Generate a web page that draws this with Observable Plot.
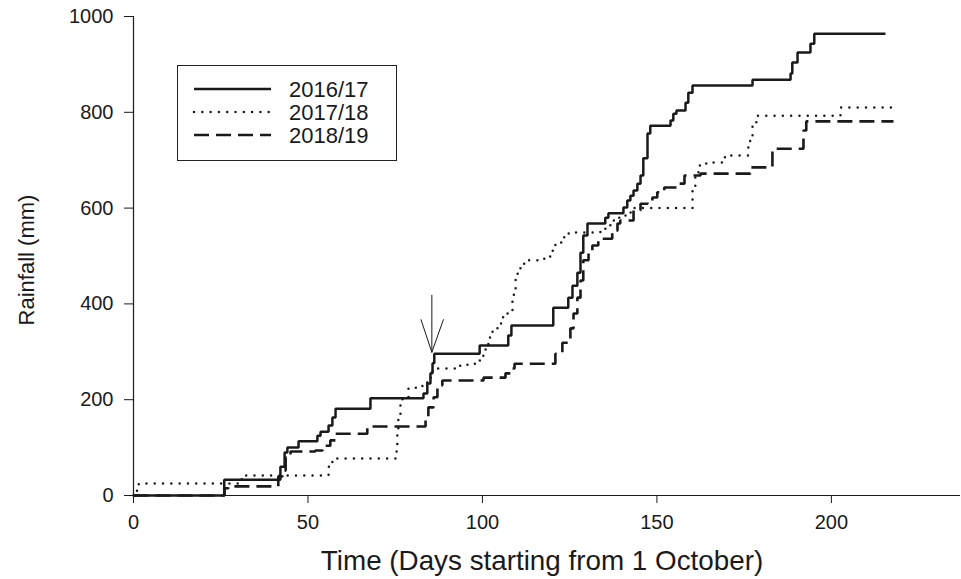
<!DOCTYPE html>
<html><head><meta charset="utf-8">
<script src="https://cdn.jsdelivr.net/npm/d3@7"></script>
<script src="https://cdn.jsdelivr.net/npm/@observablehq/plot@0.6"></script>
<style>
body{margin:0;background:#fff;font-family:"Liberation Sans",Arial,Helvetica,sans-serif;}
#wrap{position:relative;width:961px;height:579px;overflow:hidden;}
#legend{position:absolute;left:177px;top:65px;width:220px;height:96px;border:1px solid #222;box-sizing:border-box;background:#fff;}
</style></head><body><div id="wrap"></div>
<script>
// ---- data ----
const seasons = ["2016/17", "2017/18", "2018/19"];

const day1617 = [0, 26, 42.1, 43.3, 44.1, 47.3, 52.7, 53.6, 55.9, 57.0, 57.9, 67.9, 83.1, 84.2, 85.1, 85.7, 86.2, 99.2, 107.4, 108.3, 120.3, 124.6, 125.8, 127.2, 128.1, 128.9, 130.1, 135.2, 136.1, 140.4, 141.5, 142.4, 143.3, 144.4, 145.3, 146.1, 147.3, 148.1, 153.9, 154.7, 155.6, 158.2, 159.0, 160.2, 177.4, 188.3, 188.8, 190.3, 194.0, 195.1, 215.5];
const rain1617 = [0, 33, 60, 90, 100, 113, 125, 133, 146, 163, 181, 203, 213, 234, 255, 276, 296, 313, 334, 355, 392, 413, 438, 465, 507, 543, 568, 580, 589, 601, 616, 626, 637, 651, 668, 704, 756, 772, 783, 797, 804, 820, 841, 856, 868, 881, 904, 925, 943, 964, 964];

const day1718 = [0, 1, 1.5, 31, 55.9, 57.0, 75.4, 75.6, 75.9, 76.5, 77.1, 78.8, 80.8, 82.8, 84.2, 85.7, 87.1, 92.8, 95.7, 98.0, 100.0, 100.9, 101.7, 102.9, 104.3, 105.7, 107.2, 108.6, 109.0, 109.5, 110.0, 110.9, 112.3, 116.6, 118.6, 120.1, 120.9, 122.9, 124.4, 126.6, 133.8, 135.8, 137.5, 139.0, 141.0, 143.0, 160.2, 161.0, 161.9, 162.5, 164.5, 169.1, 171.1, 176.2, 177.4, 178.5, 202.6, 217.8];
const rain1718 = [0, 15, 25, 42, 60, 77, 100, 130, 160, 188, 205, 223, 225, 236, 246, 261, 265, 271, 275, 282, 292, 313, 330, 344, 359, 372, 386, 407, 428, 455, 463, 484, 491, 494, 499, 511, 528, 539, 547, 549, 557, 564, 574, 580, 591, 600, 640, 670, 689, 693, 695, 706, 710, 740, 770, 793, 810, 810];

const day1819 = [0, 26.1, 27.2, 41.5, 42.7, 43.6, 45.0, 52.1, 54.2, 56.4, 57.9, 67.0, 83.7, 84.5, 86.0, 87.1, 88.5, 100.3, 106.6, 108.0, 109.2, 120.9, 122.9, 125.2, 126.1, 127.2, 128.1, 128.9, 130.4, 131.5, 133.2, 137.2, 138.7, 139.5, 143.3, 145.3, 147.3, 148.7, 150.1, 152.1, 156.2, 157.9, 162.5, 176.8, 183.1, 192.0, 192.8, 217.8];
const rain1819 = [0, 15, 19, 40, 52, 79, 92, 94, 104, 115, 129, 144, 161, 184, 205, 230, 240, 246, 255, 265, 275, 296, 319, 349, 380, 413, 449, 491, 511, 522, 536, 553, 568, 574, 595, 609, 616, 622, 633, 643, 651, 668, 672, 685, 724, 762, 781, 781];

const xTicks = [0, 50, 100, 150, 200];
const yTicks = [0, 200, 400, 600, 800, 1000];

// arrow annotation (day, mm)
const arrowShaftX = [85.5, 85.5];
const arrowShaftY = [418, 299];
const arrowHeadX = [82.4, 85.5, 88.8];
const arrowHeadY = [367, 299, 367];

const xTitle = "Time (Days starting from 1 October)";
const yTitle = "Rainfall (mm)";

// ---- styles ----
const styles = {
  "2016/17": {strokeWidth: 2.5, strokeDasharray: null, strokeLinecap: "butt"},
  "2017/18": {strokeWidth: 2.5, strokeDasharray: "0 8.3", strokeLinecap: "round"},
  "2018/19": {strokeWidth: 2.6, strokeDasharray: "15 7", strokeLinecap: "butt"}
};

const seriesData = [
  d3.zip(day1617, rain1617).map(([d, r]) => ({day: d, rain: r, season: seasons[0]})),
  d3.zip(day1718, rain1718).map(([d, r]) => ({day: d, rain: r, season: seasons[1]})),
  d3.zip(day1819, rain1819).map(([d, r]) => ({day: d, rain: r, season: seasons[2]}))
];

const ink = "#1a1a1a";
const font = '"Liberation Sans", Arial, Helvetica, sans-serif';

const lineMarks = seriesData.map((rows, i) => {
  const s = styles[seasons[i]];
  const o = {x: "day", y: "rain", curve: "step-after", stroke: ink, strokeWidth: s.strokeWidth, strokeLinecap: s.strokeLinecap, strokeLinejoin: "miter"};
  if (s.strokeDasharray) o.strokeDasharray = s.strokeDasharray;
  return Plot.line(rows, o);
});

const chart = Plot.plot({
  width: 961, height: 579,
  marginLeft: 133, marginRight: 1, marginTop: 16, marginBottom: 84,
  style: {fontFamily: font, fontSize: "20px", color: ink, background: "#fff", overflow: "visible"},
  x: {domain: [0, 237], ticks: xTicks, tickFormat: d => String(d), label: null, tickSize: 8, tickPadding: 11},
  y: {domain: [0, 1000], ticks: yTicks, tickFormat: d => String(d), label: null, tickSize: 9, tickPadding: 11},
  marks: [
    Plot.ruleX([0], {stroke: ink, strokeWidth: 1.2}),
    Plot.ruleY([0], {stroke: ink, strokeWidth: 1.2}),
    ...lineMarks,
    Plot.line(d3.zip(arrowShaftX, arrowShaftY), {x: d => d[0], y: d => d[1], stroke: ink, strokeWidth: 1}),
    Plot.line(d3.zip(arrowHeadX, arrowHeadY), {x: d => d[0], y: d => d[1], stroke: ink, strokeWidth: 1, curve: "linear"}),
    Plot.text([xTitle], {frameAnchor: "bottom", dy: 66, dx: -5, text: d => d, fontSize: 27.8, fill: ink, lineAnchor: "middle", textAnchor: "middle"}),
    Plot.text([yTitle], {frameAnchor: "left", dx: -107, dy: 4, rotate: -90, text: d => d, fontSize: 22, fill: ink, lineAnchor: "middle", textAnchor: "middle"})
  ]
});

const wrap = document.getElementById("wrap");
wrap.appendChild(chart);

// legend overlay
const legend = document.createElement("div");
legend.id = "legend";
const ns = "http://www.w3.org/2000/svg";
const lsvg = document.createElementNS(ns, "svg");
lsvg.setAttribute("width", 218); lsvg.setAttribute("height", 94);
seasons.forEach((s, i) => {
  const y = 23 + i * 23;
  const st = styles[s];
  const ln = document.createElementNS(ns, "line");
  ln.setAttribute("x1", 16); ln.setAttribute("x2", 93);
  ln.setAttribute("y1", y); ln.setAttribute("y2", y);
  ln.setAttribute("stroke", ink);
  ln.setAttribute("stroke-width", st.strokeWidth);
  ln.setAttribute("stroke-linecap", st.strokeLinecap);
  if (st.strokeDasharray) ln.setAttribute("stroke-dasharray", st.strokeDasharray);
  lsvg.appendChild(ln);
  const tx = document.createElementNS(ns, "text");
  tx.setAttribute("x", 111); tx.setAttribute("y", y);
  tx.setAttribute("dy", "0.35em");
  tx.setAttribute("font-family", font);
  tx.setAttribute("font-size", "22px");
  tx.setAttribute("fill", ink);
  tx.textContent = s;
  lsvg.appendChild(tx);
});
legend.appendChild(lsvg);
wrap.appendChild(legend);
</script></body></html>
